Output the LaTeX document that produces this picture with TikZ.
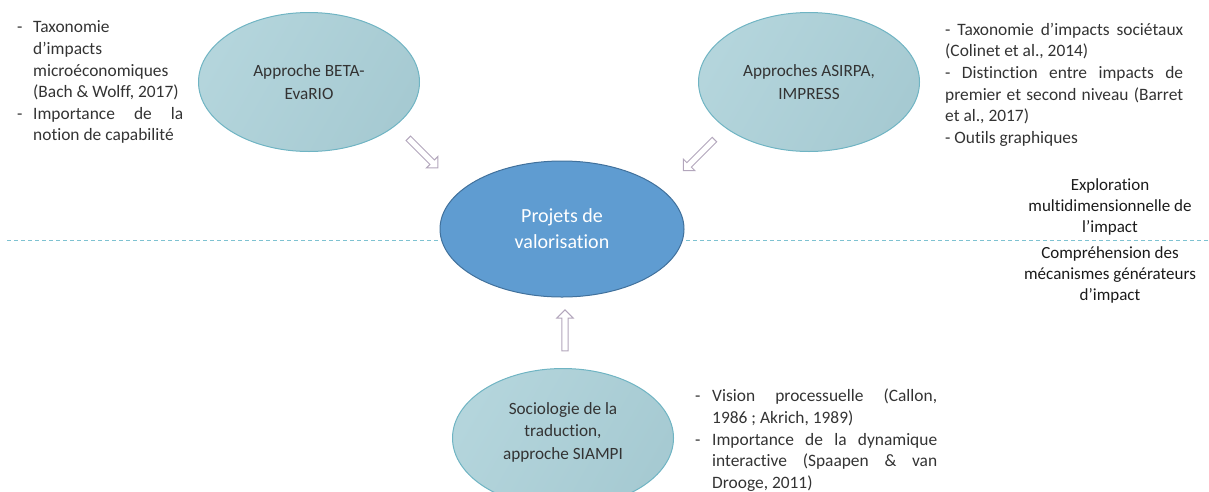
\documentclass[tikz,border=0pt]{standalone}
\usepackage{fontspec}
\setmainfont{Carlito}[Ligatures=NoCommon]
\usetikzlibrary{shapes.geometric,shapes.arrows}
\definecolor{txt}{HTML}{333333}
\definecolor{lbl}{HTML}{1A1A1A}
\definecolor{bubblefillA}{HTML}{B4D5DC}
\definecolor{bubblefillB}{HTML}{A6CAD2}
\definecolor{bubbleline}{HTML}{6FB4C3}
\definecolor{centralfill}{HTML}{5F9CD1}
\definecolor{centralline}{HTML}{41719C}
\definecolor{arrowc}{HTML}{B3A6BC}
\definecolor{dashc}{HTML}{7EC2D1}
\begin{document}
\begin{tikzpicture}[x=1pt,y=-1pt,
  bubble/.style={ellipse, draw=bubbleline, line width=1pt,
    left color=bubblefillA, right color=bubblefillB, shading angle=60,
    minimum width=221pt, minimum height=139pt, inner sep=0pt, text=txt,
    align=center, font=\fontsize{17.2}{23}\selectfont},
  central/.style={ellipse, draw=centralline, line width=1pt, fill=centralfill,
    minimum width=244pt, minimum height=136pt, inner sep=0pt, text=white,
    align=center, font=\fontsize{20}{26}\selectfont},
  bubbletext/.style={inner sep=0pt, text=txt, align=center,
    font=\fontsize{17.2}{22.5}\selectfont},
  para/.style={inner sep=0pt, anchor=north west, text=txt, align=justify,
    font=\fontsize{17.4}{21.6}\selectfont},
  sidelabel/.style={inner sep=0pt, anchor=north, text=lbl, align=center,
    font=\fontsize{17}{21}\selectfont},
  hollowarrow/.style={single arrow, draw=arrowc, fill=white, line width=1pt,
    minimum height=42pt, single arrow head extend=5pt, inner sep=2.7pt,
    single arrow head indent=0pt},
  divider/.style={draw=dashc, line width=1pt, dash pattern=on 4pt off 3pt}
]
\useasboundingbox (0,0) rectangle (1209,491);

% divider line
\coordinate (dl) at (7,240);
\coordinate (dr) at (1209,240);
\draw[divider] (dl) -- (dr);

% ellipses
\node[bubble] (beta) at (309,82) {Approche BETA-\\EvaRIO};
\node[bubble] (asirpa) at (809,82) {Approches ASIRPA,\\IMPRESS};
\node[central] (proj) at (562,229) {Projets de\\valorisation};
\node[bubble] (socio) at (563,438) {};
\node[bubbletext] (sociot) at (563,432) {Sociologie de la\\traduction,\\approche SIAMPI};

% hollow arrows
\node[hollowarrow, rotate=-45] (a1) at (422,152) {};
\node[hollowarrow, rotate=-135, minimum height=44pt] (a2) at (700,154) {};
\node[hollowarrow, rotate=90, minimum height=41pt] (a3) at (565,332) {};

% left text block
\node[para, text width=166pt] (ltxt) at (17,17.5) {\hyphenpenalty=10000\exhyphenpenalty=10000
\hangindent=16pt\hangafter=1\noindent\strut\makebox[16pt][l]{-}Taxonomie\newline
d’impacts\newline
microéconomiques\newline
(Bach \& Wolff, 2017)\par
\hangindent=16pt\hangafter=1\noindent\makebox[16pt][l]{-}Importance de la\linebreak
notion de capabilité\par};

% right top text block
\node[para, text width=238pt] (rtxt) at (945,20) {\hyphenpenalty=10000\exhyphenpenalty=10000
\noindent\strut- Taxonomie d’impacts sociétaux\linebreak
(Colinet et al., 2014)\par
\noindent- Distinction entre impacts de\linebreak
premier et second niveau (Barret\linebreak
et al., 2017)\par
\noindent- Outils graphiques\par};

% bottom right text block
\node[para, text width=242pt] (btxt) at (695,386.5) {\hyphenpenalty=10000\exhyphenpenalty=10000
\hangindent=17pt\hangafter=1\noindent\strut\makebox[17pt][l]{-}Vision processuelle (Callon,\linebreak
1986 ; Akrich, 1989)\par
\hangindent=17pt\hangafter=1\noindent\makebox[17pt][l]{-}Importance de la dynamique\linebreak
interactive (Spaapen \& van\linebreak
Drooge, 2011)\par};

% side labels
\node[sidelabel] (expl) at (1110,175.5) {\strut Exploration\\multidimensionnelle de\\l’impact};
\node[sidelabel] (compr) at (1110,243.5) {\strut Compréhension des\\mécanismes générateurs\\d’impact};
\end{tikzpicture}
\end{document}
